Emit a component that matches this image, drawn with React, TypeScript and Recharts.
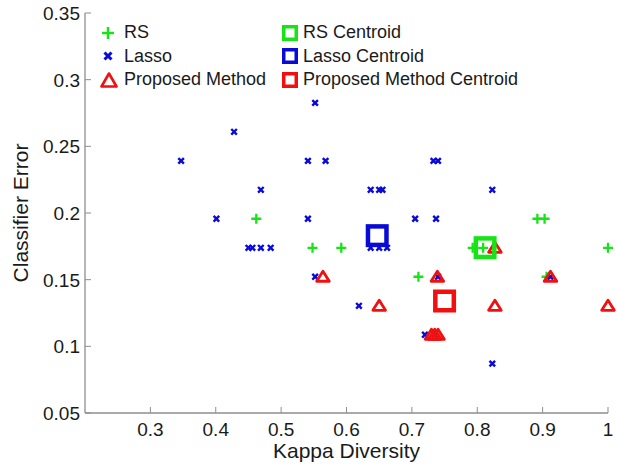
import { Legend, Scatter, ScatterChart, XAxis, YAxis } from 'recharts'

const kappaTicks = [0.3, 0.4, 0.5, 0.6, 0.7, 0.8, 0.9, 1]
const errorTicks = [0.05, 0.1, 0.15, 0.2, 0.25, 0.3, 0.35]

const rsKappa = [0.462, 0.548, 0.592, 0.71, 0.793, 0.809, 0.892, 0.903, 0.906, 1.0]
const rsError = [0.1957, 0.1739, 0.1739, 0.1522, 0.1739, 0.1739, 0.1957, 0.1957, 0.1522, 0.1739]

const lassoKappa = [
  0.347, 0.401, 0.428, 0.45, 0.456, 0.469, 0.469, 0.484, 0.541, 0.541, 0.552, 0.552, 0.568, 0.619, 0.637,
  0.65, 0.655, 0.637, 0.65, 0.662, 0.705, 0.72, 0.733, 0.74, 0.737, 0.735, 0.74, 0.823, 0.823, 0.912,
]
const lassoError = [
  0.2391, 0.1957, 0.2609, 0.1739, 0.1739, 0.2174, 0.1739, 0.1739, 0.2391, 0.1957, 0.2826, 0.1522, 0.2391, 0.1304,
  0.2174, 0.2174, 0.2174, 0.1739, 0.1739, 0.1739, 0.1957, 0.1087, 0.2391, 0.2391, 0.1957, 0.1087, 0.1522, 0.2174,
  0.087, 0.1522,
]

const proposedKappa = [0.564, 0.65, 0.73, 0.735, 0.74, 0.739, 0.827, 0.827, 0.912, 1.0]
const proposedError = [0.1522, 0.1304, 0.1087, 0.1087, 0.1087, 0.1522, 0.1739, 0.1304, 0.1522, 0.1304]

const centroidNames = ['RS Centroid', 'Lasso Centroid', 'Proposed Method Centroid']
const centroidKappa = [0.812, 0.647, 0.75]
const centroidError = [0.174, 0.183, 0.134]

const legendLabels = ['RS', 'Lasso', 'Proposed Method', 'RS Centroid', 'Lasso Centroid', 'Proposed Method Centroid']

const GREEN = '#16e416'
const BLUE = '#0a0ad6'
const RED = '#f01010'
const AXIS = '#8e8e8e'
const TEXT = '#1a1a1a'
const FONT = '"Liberation Sans", Arial, Helvetica, sans-serif'

const zip = (xs: number[], ys: number[]) => xs.map((kappa, i) => ({ kappa, error: ys[i] }))

const rsData = zip(rsKappa, rsError)
const lassoData = zip(lassoKappa, lassoError)
const proposedData = zip(proposedKappa, proposedError)
const centroidData = centroidNames.map((name, i) => [{ kappa: centroidKappa[i], error: centroidError[i] }])

const PlusMark = ({ cx, cy }: any) => (
  <path d={`M${cx - 5},${cy}H${cx + 5}M${cx},${cy - 5}V${cy + 5}`} stroke={GREEN} strokeWidth={2.3} />
)

const CrossMark = ({ cx, cy }: any) => (
  <path
    d={`M${cx - 2.8},${cy - 2.8}L${cx + 2.8},${cy + 2.8}M${cx - 2.8},${cy + 2.8}L${cx + 2.8},${cy - 2.8}`}
    stroke={BLUE}
    strokeWidth={2.4}
  />
)

const TriangleMark = ({ cx, cy }: any) => (
  <path
    d={`M${cx},${cy - 5.5}L${cx + 6.3},${cy + 4.5}L${cx - 6.3},${cy + 4.5}Z`}
    fill="none"
    stroke={RED}
    strokeWidth={2.8}
    strokeLinejoin="round"
  />
)

const squareMark = (color: string) => ({ cx, cy }: any) => (
  <rect x={cx - 9.25} y={cy - 9.25} width={18.5} height={18.5} fill="none" stroke={color} strokeWidth={4.5} />
)

const centroidShapes = [squareMark(GREEN), squareMark(BLUE), squareMark(RED)]

const BottomTick = ({ x, y, payload }: any) => (
  <g>
    <line x1={x} y1={y} x2={x} y2={y - 6} stroke={AXIS} />
    <text x={x} y={y + 23} textAnchor="middle" fontSize={19} fontFamily={FONT} fill={TEXT}>
      {String(payload.value)}
    </text>
  </g>
)

const TopTick = ({ x, y }: any) => <line x1={x} y1={y} x2={x} y2={y + 6} stroke={AXIS} />

const LeftTick = ({ x, y, payload }: any) => (
  <g>
    <line x1={x} y1={y} x2={x + 6} y2={y} stroke={AXIS} />
    <text x={x - 5} y={y + 7} textAnchor="end" fontSize={19} fontFamily={FONT} fill={TEXT}>
      {String(payload.value)}
    </text>
  </g>
)

const RightTick = ({ x, y }: any) => <line x1={x} y1={y} x2={x - 6} y2={y} stroke={AXIS} />

const KappaTitle = ({ viewBox }: any) => (
  <text x={viewBox.x + viewBox.width / 2} y={viewBox.y + 45} textAnchor="middle" fontSize={21} fontFamily={FONT} fill={TEXT}>
    Kappa Diversity
  </text>
)

const ErrorTitle = ({ viewBox }: any) => {
  const cy = viewBox.y + viewBox.height / 2
  return (
    <text x={28} y={cy} transform={`rotate(-90, 28, ${cy})`} textAnchor="middle" fontSize={21} fontFamily={FONT} fill={TEXT}>
      Classifier Error
    </text>
  )
}

const legendMarkers = [
  <path d="M2,8H14M8,2V14" stroke={GREEN} strokeWidth={2.5} />,
  <path d="M4.5,4.5L11.5,11.5M4.5,11.5L11.5,4.5" stroke={BLUE} strokeWidth={3} />,
  <path d="M9,1.5L16.5,14.5L1.5,14.5Z" fill="none" stroke={RED} strokeWidth={2.6} strokeLinejoin="round" />,
  <rect x={1.75} y={1.75} width={12.5} height={12.5} fill="none" stroke={GREEN} strokeWidth={3.5} />,
  <rect x={1.75} y={1.75} width={12.5} height={12.5} fill="none" stroke={BLUE} strokeWidth={3.5} />,
  <rect x={1.75} y={1.75} width={12.5} height={12.5} fill="none" stroke={RED} strokeWidth={3.5} />,
]

const LegendBox = () => (
  <div
    style={{
      display: 'grid',
      gridTemplateColumns: '182px auto',
      gridTemplateRows: 'repeat(3, 23.5px)',
      gridAutoFlow: 'column',
      fontFamily: FONT,
      fontSize: 18,
      color: TEXT,
    }}
  >
    {legendLabels.map((label, i) => (
      <div key={label} style={{ display: 'flex', alignItems: 'center', whiteSpace: 'nowrap' }}>
        <svg width={18} height={16} style={{ marginRight: i < 3 ? 6 : 3, overflow: 'visible' }}>
          {legendMarkers[i]}
        </svg>
        {label}
      </div>
    ))}
  </div>
)

export default function App() {
  return (
    <div style={{ position: 'absolute', left: 0, top: 0, background: '#fff' }}>
      <ScatterChart width={618} height={465} margin={{ top: 13, right: 10, bottom: 0, left: 0 }}>
        <XAxis
          type="number"
          dataKey="kappa"
          domain={[0.2, 1]}
          ticks={kappaTicks}
          interval={0}
          height={52}
          tickSize={0}
          tickMargin={0}
          tickLine={false}
          axisLine={{ stroke: AXIS, strokeWidth: 1.3 }}
          tick={BottomTick}
          label={{ content: KappaTitle }}
        />
        <XAxis
          xAxisId="top"
          orientation="top"
          type="number"
          dataKey="kappa"
          domain={[0.2, 1]}
          ticks={kappaTicks}
          interval={0}
          height={0}
          tickSize={0}
          tickMargin={0}
          tickLine={false}
          axisLine={{ stroke: AXIS, strokeWidth: 1.3 }}
          tick={TopTick}
        />
        <YAxis
          type="number"
          dataKey="error"
          domain={[0.05, 0.35]}
          ticks={errorTicks}
          interval={0}
          width={85}
          tickSize={0}
          tickMargin={0}
          tickLine={false}
          axisLine={{ stroke: AXIS, strokeWidth: 1.3 }}
          tick={LeftTick}
          label={{ content: ErrorTitle }}
        />
        <YAxis
          yAxisId="right"
          orientation="right"
          type="number"
          dataKey="error"
          domain={[0.05, 0.35]}
          ticks={errorTicks}
          interval={0}
          width={0}
          tickSize={0}
          tickMargin={0}
          tickLine={false}
          axisLine={{ stroke: AXIS, strokeWidth: 1.3 }}
          tick={RightTick}
        />
        <Scatter name="RS" data={rsData} shape={PlusMark} isAnimationActive={false} />
        <Scatter name="Lasso" data={lassoData} shape={CrossMark} isAnimationActive={false} />
        <Scatter name="Proposed Method" data={proposedData} shape={TriangleMark} isAnimationActive={false} />
        {centroidNames.map((name, i) => (
          <Scatter key={name} name={name} data={centroidData[i]} shape={centroidShapes[i]} isAnimationActive={false} />
        ))}
        <Legend content={LegendBox} verticalAlign="middle" wrapperStyle={{ top: 21, left: 100, width: 420 }} />
      </ScatterChart>
    </div>
  )
}
